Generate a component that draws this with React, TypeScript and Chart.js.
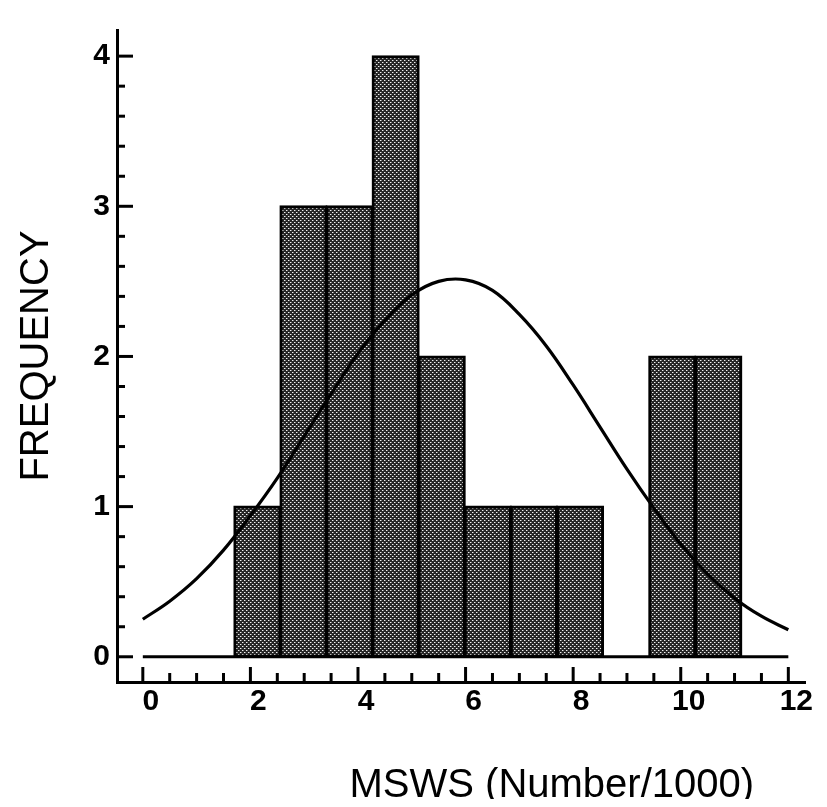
import React, { useEffect, useRef } from 'react';
import { Chart, registerables } from 'chart.js';

Chart.register(...registerables);

// ---- data ----
const binCenters = [2.129, 2.986, 3.843, 4.7, 5.557, 6.414, 7.271, 8.128, 8.985, 9.842, 10.699];
const binCounts = [1, 3, 3, 4, 2, 1, 1, 1, 0, 2, 2];

const curveX = [0, 0.5, 1, 1.5, 2, 2.5, 3, 3.5, 4, 4.5, 5, 5.5, 6, 6.5, 7, 7.5, 8, 8.5, 9, 9.5, 10, 10.5, 11, 11.5, 12];
const curveY = [0.25, 0.37, 0.52, 0.71, 0.94, 1.19, 1.47, 1.75, 2.02, 2.24, 2.41, 2.5, 2.51, 2.44, 2.28, 2.07, 1.81, 1.53, 1.25, 0.99, 0.75, 0.55, 0.39, 0.27, 0.18];

const baselineX = [0, 12];
const baselineY = [0, 0];

const xRange = [-0.48, 12.31];
const yRange = [-0.168, 4.174];
const xStep = 2;
const yStep = 1;
const xMinorDiv = 4;
const yMinorDiv = 5;

const xTitle = 'MSWS (Number/1000)';
const yTitle = 'FREQUENCY';

const FONT = '"Liberation Sans", Arial, Helvetica, sans-serif';

const axisDecor = {
  id: 'axisDecor',
  afterDraw(chart: any) {
    const { ctx, chartArea } = chart;
    const xs = chart.scales.x;
    const ys = chart.scales.y;
    ctx.save();
    ctx.strokeStyle = '#000';
    ctx.lineWidth = 3;
    ctx.lineCap = 'butt';
    const seg = (x1: number, y1: number, x2: number, y2: number) => {
      ctx.beginPath();
      ctx.moveTo(x1, y1);
      ctx.lineTo(x2, y2);
      ctx.stroke();
    };
    // x ticks (inward)
    const xb = chartArea.bottom;
    const xt = xs.ticks.map((t: any) => t.value);
    for (let i = 0; i < xt.length; i++) {
      const p = xs.getPixelForValue(xt[i]);
      seg(p, xb, p, xb - 15);
      if (i < xt.length - 1) {
        const st = (xt[i + 1] - xt[i]) / xMinorDiv;
        for (let k = 1; k < xMinorDiv; k++) {
          const q = xs.getPixelForValue(xt[i] + k * st);
          seg(q, xb, q, xb - 9);
        }
      }
    }
    // y ticks (inward)
    const yl = chartArea.left;
    const yt = ys.ticks.map((t: any) => t.value);
    for (let i = 0; i < yt.length; i++) {
      const p = ys.getPixelForValue(yt[i]);
      seg(yl, p, yl + 16, p);
      if (i < yt.length - 1) {
        const st = (yt[i + 1] - yt[i]) / yMinorDiv;
        for (let k = 1; k < yMinorDiv; k++) {
          const q = ys.getPixelForValue(yt[i] + k * st);
          seg(yl, q, yl + 8, q);
        }
      }
    }
    // x axis title
    ctx.fillStyle = '#000';
    ctx.font = `40px ${FONT}`;
    ctx.textAlign = 'center';
    ctx.textBaseline = 'middle';
    ctx.fillText(xTitle, chartArea.left + 0.632 * (chartArea.right - chartArea.left), chart.height - 13);
    ctx.restore();
  },
};

export default function App() {
  const ref = useRef<HTMLCanvasElement | null>(null);

  useEffect(() => {
    const canvas = ref.current;
    if (!canvas) return;
    const ctx = canvas.getContext('2d')!;

    const pc = document.createElement('canvas');
    pc.width = 4;
    pc.height = 4;
    const p = pc.getContext('2d')!;
    p.fillStyle = '#262626';
    p.fillRect(0, 0, 4, 4);
    p.fillStyle = '#f0f0f0';
    p.fillRect(0, 0, 1, 1);
    p.fillRect(2, 2, 1, 1);
    p.fillStyle = '#808080';
    p.fillRect(1, 0, 1, 1);
    p.fillRect(3, 2, 1, 1);
    const pattern = ctx.createPattern(pc, 'repeat');

    const bars = binCenters
      .map((x, i) => ({ x, y: binCounts[i] }))
      .filter((d) => d.y > 0);
    const curve = curveX.map((x, i) => ({ x, y: curveY[i] }));
    const base = baselineX.map((x, i) => ({ x, y: baselineY[i] }));

    const chart = new Chart(ctx, {
      type: 'bar',
      data: {
        datasets: [
          {
            type: 'line',
            data: curve,
            borderColor: '#000',
            borderWidth: 3.2,
            pointRadius: 0,
            tension: 0.4,
            fill: false,
            order: 0,
          } as any,
          {
            type: 'line',
            data: base,
            borderColor: '#000',
            borderWidth: 3,
            pointRadius: 0,
            fill: false,
            order: 0,
          } as any,
          {
            type: 'bar',
            data: bars,
            backgroundColor: pattern as any,
            borderColor: '#000',
            borderWidth: 3,
            borderSkipped: false,
            inflateAmount: 1,
            barPercentage: 1,
            categoryPercentage: 1,
            order: 1,
          } as any,
        ],
      },
      options: {
        responsive: false,
        animation: false,
        events: [],
        layout: { padding: { top: 1, right: 14, bottom: 0, left: 0 } },
        plugins: { legend: { display: false }, tooltip: { enabled: false } },
        scales: {
          x: {
            type: 'linear',
            min: xRange[0],
            max: xRange[1],
            offset: false,
            grid: { display: false, drawTicks: false },
            border: { display: true, color: '#000', width: 3 },
            ticks: {
              stepSize: xStep,
              includeBounds: false,
              labelOffset: 8,
              padding: 5,
              color: '#000',
              maxRotation: 0,
              autoSkip: false,
              font: { family: FONT, size: 30, weight: 'bold', lineHeight: 1 },
            },
            afterFit: (s: any) => {
              s.height = 117;
            },
          },
          y: {
            type: 'linear',
            min: yRange[0],
            max: yRange[1],
            grid: { display: false, drawTicks: false },
            border: { display: true, color: '#000', width: 3 },
            ticks: {
              stepSize: yStep,
              includeBounds: false,
              padding: 7,
              color: '#000',
              font: { family: FONT, size: 30, weight: 'bold', lineHeight: 1 },
            },
            title: {
              display: true,
              text: yTitle,
              color: '#000',
              font: { family: FONT, size: 40, lineHeight: 1 },
              padding: { top: 9, bottom: 0 },
            },
            afterFit: (s: any) => {
              s.width = 109;
            },
          },
        },
      } as any,
      plugins: [axisDecor],
    });

    return () => chart.destroy();
  }, []);

  return (
    <div style={{ width: 811, height: 791 }}>
      <canvas ref={ref} width={811} height={791} style={{ display: 'block' }} />
    </div>
  );
}
